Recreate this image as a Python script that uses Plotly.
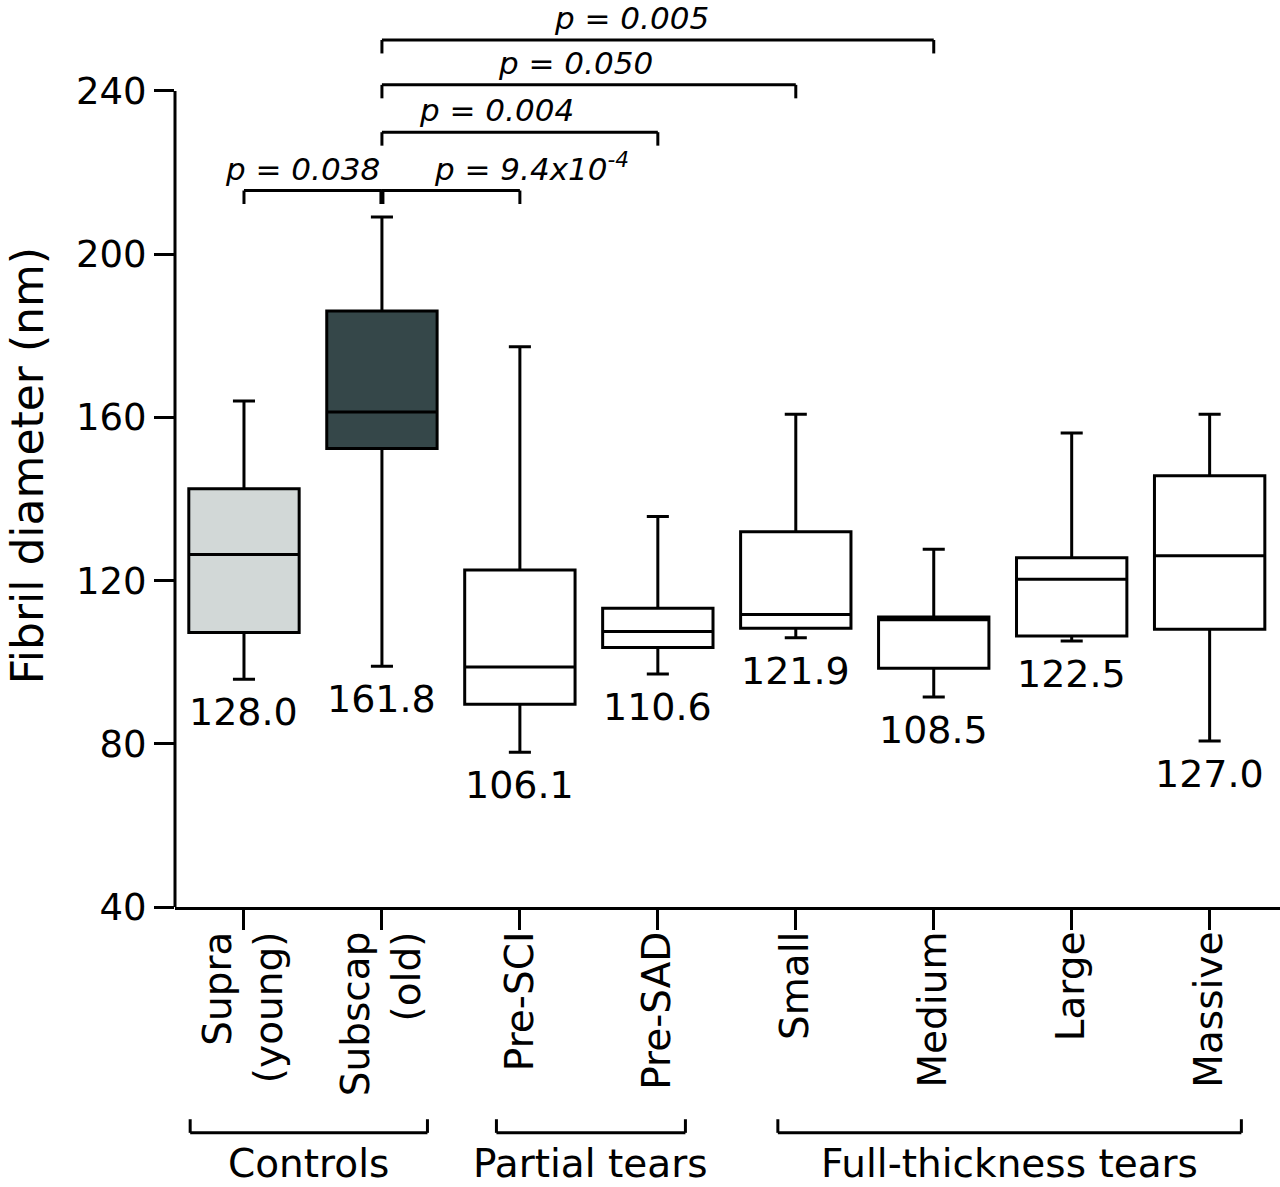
import plotly.graph_objects as go

# ---------------- data ----------------
categories = ["Supra<br>(young)", "Subscap<br>(old)", "Pre-SCI", "Pre-SAD",
              "Small", "Medium", "Large", "Massive"]
lower_whisker = [95.8, 99.0, 77.9, 97.1, 106.0, 91.5, 105.2, 80.7]
q1_vals       = [107.3, 152.4, 89.7, 103.6, 108.3, 98.5, 106.4, 108.1]
median_vals   = [126.4, 161.3, 98.8, 107.5, 111.7, 110.4, 120.3, 126.1]
q3_vals       = [142.5, 186.1, 122.6, 113.2, 132.0, 111.1, 125.6, 145.7]
upper_whisker = [164.0, 209.1, 177.3, 135.7, 160.8, 127.7, 156.2, 160.8]
mean_labels   = ["128.0", "161.8", "106.1", "110.6", "121.9", "108.5", "122.5", "127.0"]

fill_colors = ["#d2d8d7", "#354749", "white", "white", "white", "white", "white", "white"]

# significance comparisons: (from index, to index, text)
comparisons = [
    (0, 1, "p = 0.038"),
    (1, 2, "p = 9.4x10<sup>-4</sup>"),
    (1, 3, "p = 0.004"),
    (1, 4, "p = 0.050"),
    (1, 5, "p = 0.005"),
]
group_names = ["Controls", "Partial tears", "Full-thickness tears"]

y_ticks = [40, 80, 120, 160, 200, 240]

# ---------------- figure ----------------
FONT = "DejaVu Sans"
fig = go.Figure()

for i, cat in enumerate(categories):
    fig.add_trace(go.Box(
        x=[cat], q1=[q1_vals[i]], median=[median_vals[i]], q3=[q3_vals[i]],
        lowerfence=[lower_whisker[i]], upperfence=[upper_whisker[i]],
        width=0.8, whiskerwidth=0.2,
        fillcolor=fill_colors[i], line=dict(color="black", width=3),
        boxpoints=False, hoverinfo="skip", showlegend=False,
    ))

annotations = []
shapes = []

# mean labels under lower whisker
for i, cat in enumerate(categories):
    annotations.append(dict(
        x=i, y=lower_whisker[i], xref="x", yref="y", text=mean_labels[i],
        showarrow=False, yanchor="middle", yshift=-33,
        font=dict(family=FONT, size=38, color="black")))

# y axis line only from 40 to 240
shapes.append(dict(type="line", xref="paper", yref="y", x0=0, x1=0,
                   y0=y_ticks[0], y1=y_ticks[-1], line=dict(color="black", width=3)))

# significance brackets
levels = [215.6, 215.6, 229.9, 241.5, 252.5]
drop = 3.3
text_x = [(1, "right"), (1.36, "left"), (1.83, "center"), (2.40, "center"), (2.81, "center")]
for k, (a, b, txt) in enumerate(comparisons):
    yl = levels[k]
    shapes.append(dict(type="line", xref="x", yref="y", x0=a, x1=b, y0=yl, y1=yl,
                       line=dict(color="black", width=3)))
    for xx in (a, b):
        shapes.append(dict(type="line", xref="x", yref="y", x0=xx, x1=xx,
                           y0=yl, y1=yl - drop, line=dict(color="black", width=3)))
    tx, anc = text_x[k]
    annotations.append(dict(
        x=tx, y=yl, xref="x", yref="y", text="<i>" + txt + "</i>",
        showarrow=False, xanchor=anc, yanchor="bottom", yshift=2,
        font=dict(family=FONT, size=31, color="black")))
# thicker middle tick at Subscap
shapes.append(dict(type="line", xref="x", yref="y", x0=1, x1=1,
                   y0=levels[0], y1=levels[0] - drop, line=dict(color="black", width=5)))

# group brackets below axis (extents in category units)
group_extents = [(-0.39, 1.33), (1.83, 3.20), (3.87, 7.23)]
for name, (x0, x1) in zip(group_names, group_extents):
    shapes.append(dict(type="line", xref="x", yref="paper", x0=x0, x1=x1,
                       y0=-0.249, y1=-0.249, line=dict(color="black", width=3)))
    for xx in (x0, x1):
        shapes.append(dict(type="line", xref="x", yref="paper", x0=xx, x1=xx,
                           y0=-0.249, y1=-0.234, line=dict(color="black", width=3)))
    annotations.append(dict(
        x=(x0 + x1) / 2, y=-0.283, xref="x", yref="paper", text=name,
        showarrow=False, xanchor="center", yanchor="middle",
        font=dict(family=FONT, size=39, color="black")))

# y axis title
annotations.append(dict(
    x=0, y=148, xref="paper", yref="y", xshift=-148, text="Fibril diameter (nm)",
    textangle=-90, showarrow=False, xanchor="center", yanchor="middle",
    font=dict(family=FONT, size=44, color="black")))

fig.update_layout(
    width=1280, height=1187,
    margin=dict(l=175, r=0, t=0, b=280),
    paper_bgcolor="white", plot_bgcolor="white",
    boxmode="overlay",
    showlegend=False,
    annotations=annotations, shapes=shapes,
    font=dict(family=FONT, color="black"),
)
fig.update_xaxes(
    type="category", categoryorder="array", categoryarray=categories,
    range=[-0.5, 7.51], showline=True, linewidth=3, linecolor="black",
    ticks="outside", ticklen=20, tickwidth=3, tickcolor="black",
    tickangle=-90, showgrid=False, zeroline=False, ticklabelstandoff=-14,
    tickfont=dict(family=FONT, size=39, color="black"),
)
fig.update_yaxes(
    range=[40, 262.3], tickvals=y_ticks, ticktext=[str(v) for v in y_ticks],
    showline=False, ticks="outside", ticklen=20, tickwidth=3, tickcolor="black",
    showgrid=False, zeroline=False,
    tickfont=dict(family=FONT, size=37, color="black"),
)

fig.write_html("out.html")
